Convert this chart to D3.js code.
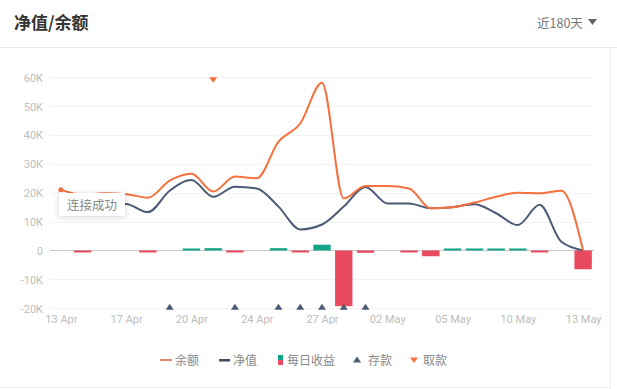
<!DOCTYPE html>
<html><head><meta charset="utf-8">
<script src="https://cdn.jsdelivr.net/npm/d3@7"></script>
<style>
html,body{margin:0;padding:0;background:#fff;}
body{width:617px;height:389px;overflow:hidden;font-family:Roboto,"Noto Sans CJK SC",sans-serif;}
#toast{position:absolute;left:59px;top:193px;width:66px;height:23px;background:#fff;box-shadow:0 1px 6px rgba(0,0,0,0.18);font-family:"Noto Sans CJK SC",sans-serif;font-size:12.5px;color:#888;line-height:23px;text-align:center;}
</style></head>
<body>
<svg id="chart" width="617" height="389"></svg>
<div id="toast">连接成功</div>
<script>
const categories = ["13 Apr","14 Apr","15 Apr","17 Apr","18 Apr","19 Apr","20 Apr","21 Apr","23 Apr","24 Apr","25 Apr","26 Apr","27 Apr","28 Apr","30 Apr","02 May","03 May","04 May","05 May","06 May","08 May","10 May","11 May","12 May","13 May"];
const tickLabels = ["13 Apr","17 Apr","20 Apr","24 Apr","27 Apr","02 May","05 May","10 May","13 May"];
const yTicks = [-20000,-10000,0,10000,20000,30000,40000,50000,60000];
const balance = [21000,19400,19800,19500,18300,24200,26600,20400,25600,25000,37700,44000,58100,18000,22300,22300,21500,14600,15000,16600,18600,20000,19800,20700,0];
const netValue = [17500,16800,16300,16100,13300,20700,24400,18600,22100,21500,15200,7300,9000,15200,22000,16300,16300,14600,15000,16000,12900,8800,15800,3000,0];
const dailyIncome = [0,-500,0,0,-250,0,300,800,-300,0,800,-250,2000,-19300,-800,0,-300,-2000,150,300,600,250,-100,0,-6500];
const deposits = ["19 Apr","23 Apr","25 Apr","26 Apr","27 Apr","28 Apr","30 Apr"];
const withdrawals = ["21 Apr"];
const legendNames = ["余额","净值","每日收益","存款","取款"];

const C = {orange:"#f4703c", navy:"#4b5a75", green:"#14a487", red:"#e94a5f", axis:"#bdbdbd", grid:"#f2f2f2"};
const svg = d3.select("#chart");

// header
svg.append("text").attr("x",14).attr("y",29).attr("font-family","'Noto Sans CJK SC',sans-serif").attr("font-size",17).attr("font-weight",700).attr("fill","#333").text("净值/余额");
svg.append("text").attr("x",537).attr("y",28).attr("font-family","'Noto Sans CJK SC',sans-serif").attr("font-size",12.5).attr("fill","#777").text("近180天");
svg.append("path").attr("d","M588,19 L597,19 L592.5,25 Z").attr("fill","#666");
svg.append("line").attr("x1",0).attr("x2",617).attr("y1",47.5).attr("y2",47.5).attr("stroke","#e8e8e8");
svg.append("line").attr("x1",610.5).attr("x2",610.5).attr("y1",48).attr("y2",389).attr("stroke","#ececec");
svg.append("line").attr("x1",0).attr("x2",611).attr("y1",387.5).attr("y2",387.5).attr("stroke","#ececec");

const x = d3.scaleBand().domain(categories).range([50,594]).paddingInner(0).paddingOuter(0);
const bw = x.bandwidth();
const cx = d => x(d) + bw/2;
const y = d3.scaleLinear().domain([-20000,60000]).range([308.2,77.3]);

// grid
svg.append("g").selectAll("line").data(yTicks.filter(t=>t!==0)).join("line")
  .attr("x1",50).attr("x2",594).attr("y1",d=>Math.round(y(d))+0.5).attr("y2",d=>Math.round(y(d))+0.5)
  .attr("stroke",C.grid);

// y axis labels
const yAxis = d3.axisLeft(y).tickValues(yTicks).tickSize(0).tickPadding(0)
  .tickFormat(d => d===0 ? "0" : (d/1000)+"K");
const ga = svg.append("g").attr("transform","translate(43,0)").call(yAxis);
ga.select(".domain").remove();
ga.selectAll("text").attr("fill",C.axis).attr("font-size",11).attr("font-family","Roboto,sans-serif").attr("dy","0.35em");

// zero axis line
svg.append("line").attr("x1",50).attr("x2",594).attr("y1",Math.round(y(0))+0.5).attr("y2",Math.round(y(0))+0.5).attr("stroke","#c8c8c8");

// bars
svg.append("g").selectAll("rect").data(categories.map((c,i)=>({c,v:dailyIncome[i]})).filter(d=>d.v!==0)).join("rect")
  .attr("x",d=>cx(d.c)-8.7).attr("width",17.4)
  .attr("y",d=>d.v>0 ? Math.min(y(d.v), y(0)-2) : y(0))
  .attr("height",d=>Math.max(2,Math.abs(y(d.v)-y(0))))
  .attr("fill",d=>d.v>0?C.green:C.red);

// x axis labels
const xAxis = d3.axisBottom(d3.scalePoint().domain(categories).range([cx(categories[0]),cx(categories[categories.length-1])]))
  .tickValues(tickLabels).tickSize(0).tickPadding(0);
const gx = svg.append("g").attr("transform","translate(0,319)").call(xAxis);
gx.select(".domain").remove();
gx.selectAll("text").attr("fill",C.axis).attr("font-size",11).attr("font-family","Roboto,sans-serif").attr("dy","0.35em");

// lines
const line = d3.line().x((d,i)=>cx(categories[i])).y(d=>y(d)).curve(d3.curveMonotoneX);
svg.append("path").attr("d",line(netValue)).attr("fill","none").attr("stroke",C.navy).attr("stroke-width",2);
svg.append("path").attr("d",line(balance)).attr("fill","none").attr("stroke",C.orange).attr("stroke-width",2);
svg.append("circle").attr("cx",cx(categories[0])).attr("cy",y(balance[0])).attr("r",2.5).attr("fill",C.orange);

// deposit markers
svg.append("g").selectAll("path").data(deposits).join("path")
  .attr("d",d=>{const px=cx(d), py=y(-20000); return `M${px-4},${py+1.5} L${px+4},${py+1.5} L${px},${py-4.5} Z`;})
  .attr("fill",C.navy);
// withdrawal markers
svg.append("g").selectAll("path").data(withdrawals).join("path")
  .attr("d",d=>{const px=cx(d), py=y(60000); return `M${px-4},${py} L${px+4},${py} L${px},${py+5.5} Z`;})
  .attr("fill",C.orange);

// legend
const lg = svg.append("g").attr("font-family","'Noto Sans CJK SC',sans-serif").attr("font-size",12).attr("fill","#888");
const ly = 360;
lg.append("rect").attr("x",160).attr("y",ly-1).attr("width",12).attr("height",2).attr("fill","#e8846a");
lg.append("text").attr("x",175).attr("y",ly+4.5).text(legendNames[0]);
lg.append("rect").attr("x",219).attr("y",ly-1).attr("width",11).attr("height",2.5).attr("fill","#3f4a5e");
lg.append("text").attr("x",233).attr("y",ly+4.5).text(legendNames[1]);
lg.append("rect").attr("x",278).attr("y",ly-5).attr("width",5).attr("height",5).attr("fill",C.green);
lg.append("rect").attr("x",278).attr("y",ly).attr("width",5).attr("height",5).attr("fill",C.red);
lg.append("text").attr("x",287).attr("y",ly+4.5).text(legendNames[2]);
lg.append("path").attr("d",`M353,${ly+2.5} L361,${ly+2.5} L357,${ly-3.5} Z`).attr("fill",C.navy);
lg.append("text").attr("x",368).attr("y",ly+4.5).text(legendNames[3]);
lg.append("path").attr("d",`M410,${ly-2.5} L418,${ly-2.5} L414,${ly+3} Z`).attr("fill",C.orange);
lg.append("text").attr("x",423).attr("y",ly+4.5).text(legendNames[4]);
</script>
</body></html>
